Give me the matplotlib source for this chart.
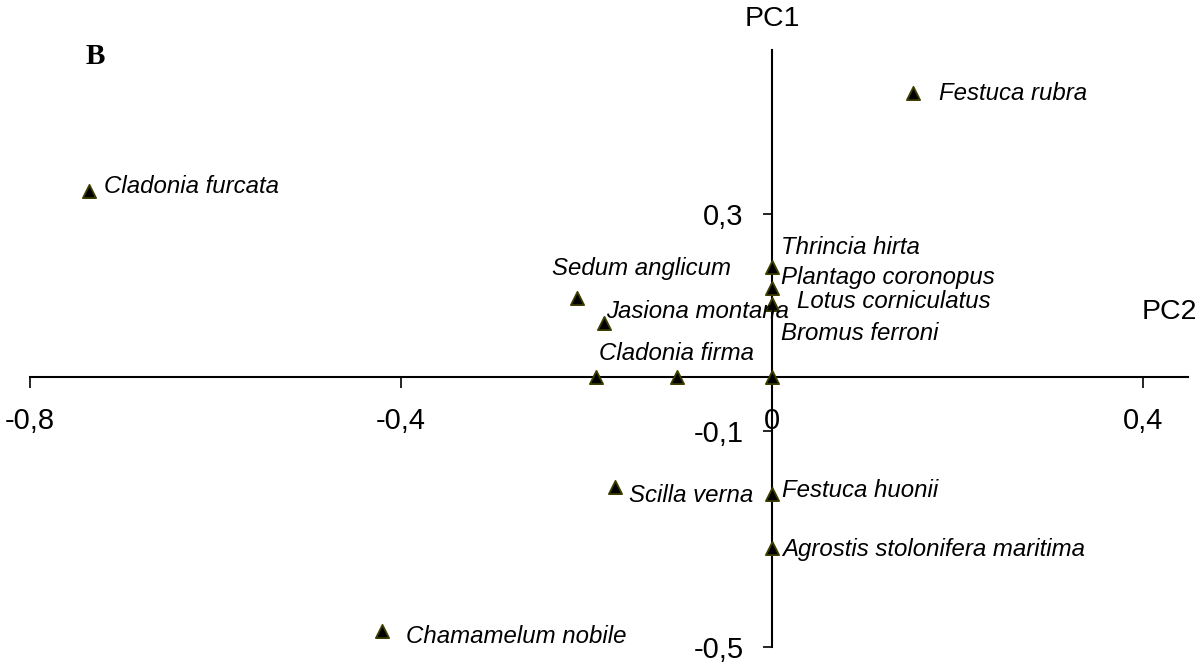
import matplotlib
matplotlib.use("Agg")
import matplotlib.pyplot as plt

# ---- data (PC2 = x, PC1 = y) ----
species = ["Festuca rubra", "Cladonia furcata", "Thrincia hirta", "Plantago coronopus",
           "Lotus corniculatus", "Bromus ferroni", "Sedum anglicum", "Jasiona montana",
           "Cladonia firma", "", "Scilla verna", "Festuca huonii",
           "Agrostis stolonifera maritima", "Chamamelum nobile"]
pc2 = [0.152, -0.7365, 0.0, 0.0, 0.0, 0.0, -0.211, -0.181, -0.1895, -0.103, -0.170, 0.0, 0.0, -0.421]
pc1 = [0.524, 0.344, 0.202, 0.163, 0.135, 0.0, 0.146, 0.100, 0.0, 0.0, -0.204, -0.217, -0.317, -0.470]

xticks = [-0.8, -0.4, 0.0, 0.4]
xticklabels = ["-0,8", "-0,4", "0", "0,4"]
yticks = [0.3, -0.1, -0.5]
yticklabels = ["0,3", "-0,1", "-0,5"]

# label offsets (pixels) relative to each point: layout only
label_offsets = [(26, 0), (15, 4), (9, 20), (9, 11), (25, 2), (9, 43), (-25, 29),
                 (2, 11), (3, 23), (0, 0), (14, -9), (10, 3), (10, -1), (24, -6)]

W, H = 1197, 663
fig = plt.figure(figsize=(W / 100, H / 100), dpi=100)
left, right = 30, 1188
top, bottom = 50, 647
ax = fig.add_axes([left / W, (H - bottom) / H, (right - left) / W, (bottom - top) / H])
ax.set_xlim(-0.8, 0.448)
ax.set_ylim(-0.5, 0.604)

for s in ["top", "right"]:
    ax.spines[s].set_visible(False)
ax.spines["left"].set_position(("data", 0))
ax.spines["bottom"].set_position(("data", 0))
for s in ["left", "bottom"]:
    ax.spines[s].set_linewidth(1.5)
    ax.spines[s].set_color("black")

ax.set_xticks(xticks)
ax.set_xticklabels(xticklabels)
ax.set_yticks(yticks)
ax.set_yticklabels(yticklabels)
ax.tick_params(axis="x", direction="out", length=8, width=1.2, pad=14,
               labelsize=21)
ax.tick_params(axis="y", direction="out", length=6.5, width=1.2, pad=14,
               labelsize=21)
for lab in ax.get_xticklabels() + ax.get_yticklabels():
    lab.set_fontfamily("Liberation Sans")

ax.scatter(pc2, pc1, marker="^", s=90, facecolor="black", edgecolor="#3d3d00",
           linewidths=1.3, zorder=5, clip_on=False)

for name, x, y, (dx, dy) in zip(species, pc2, pc1, label_offsets):
    if not name:
        continue
    ax.annotate(name, (x, y), xytext=(dx, dy), textcoords="offset pixels",
                ha="left", va="center", fontsize=17.3, style="italic",
                family="Liberation Sans", color="black", zorder=6,
                annotation_clip=False)

fig.text(772 / W, 1 - 19 / H, "PC1", ha="center", va="center", fontsize=20.5,
         family="Liberation Sans")
fig.text(1142 / W, 1 - 312 / H, "PC2", ha="left", va="center", fontsize=20.5,
         family="Liberation Sans")
fig.text(95 / W, 1 - 57 / H, "B", ha="center", va="center", fontsize=21,
         family="Liberation Serif", weight="bold")

fig.savefig("out.png", dpi=100)
